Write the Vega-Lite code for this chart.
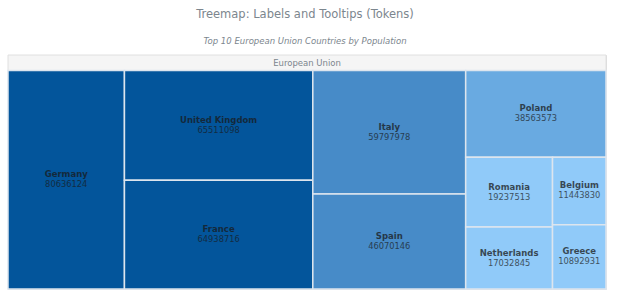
{
  "$schema": "https://vega.github.io/schema/vega-lite/v6.json",
  "width": 598,
  "height": 234,
  "autosize": {"type": "none"},
  "padding": {"left": 8, "top": 55, "right": 14, "bottom": 11},
  "background": "white",
  "title": {
    "text": "Treemap: Labels and Tooltips (Tokens)",
    "subtitle": "Top 10 European Union Countries by Population",
    "anchor": "middle",
    "frame": "group",
    "font": "DejaVu Sans",
    "fontSize": 11.5,
    "fontWeight": "normal",
    "color": "#7c868e",
    "subtitleFont": "DejaVu Sans",
    "subtitleFontSize": 8.5,
    "subtitleFontStyle": "italic",
    "subtitleColor": "#7c868e",
    "subtitlePadding": 17,
    "offset": 9,
    "dx": -2
  },
  "data": {
    "values": [
      {"parent": "European Union", "name": "Germany", "value": 80636124, "col": 1, "row": 1, "sub": 1, "item": 1},
      {"parent": "European Union", "name": "United Kingdom", "value": 65511098, "col": 2, "row": 1, "sub": 1, "item": 1},
      {"parent": "European Union", "name": "France", "value": 64938716, "col": 2, "row": 2, "sub": 1, "item": 1},
      {"parent": "European Union", "name": "Italy", "value": 59797978, "col": 3, "row": 1, "sub": 1, "item": 1},
      {"parent": "European Union", "name": "Spain", "value": 46070146, "col": 3, "row": 2, "sub": 1, "item": 1},
      {"parent": "European Union", "name": "Poland", "value": 38563573, "col": 4, "row": 1, "sub": 1, "item": 1},
      {"parent": "European Union", "name": "Romania", "value": 19237513, "col": 4, "row": 2, "sub": 1, "item": 1},
      {"parent": "European Union", "name": "Netherlands", "value": 17032845, "col": 4, "row": 2, "sub": 1, "item": 2},
      {"parent": "European Union", "name": "Belgium", "value": 11443830, "col": 4, "row": 2, "sub": 2, "item": 1},
      {"parent": "European Union", "name": "Greece", "value": 10892931, "col": 4, "row": 2, "sub": 2, "item": 2}
    ]
  },
  "transform": [
    {"joinaggregate": [{"op": "sum", "field": "value", "as": "total"}]},
    {"joinaggregate": [{"op": "sum", "field": "value", "as": "colSum"}], "groupby": ["col"]},
    {"window": [{"op": "sum", "field": "value", "as": "colEnd"}], "sort": [{"field": "col", "order": "ascending"}], "frame": [null, 0]},
    {"joinaggregate": [{"op": "sum", "field": "value", "as": "rowSum"}], "groupby": ["col", "row"]},
    {"window": [{"op": "sum", "field": "value", "as": "rowEnd"}], "groupby": ["col"], "sort": [{"field": "row", "order": "ascending"}], "frame": [null, 0]},
    {"joinaggregate": [{"op": "sum", "field": "value", "as": "subSum"}], "groupby": ["col", "row", "sub"]},
    {"window": [{"op": "sum", "field": "value", "as": "subEnd"}], "groupby": ["col", "row"], "sort": [{"field": "sub", "order": "ascending"}], "frame": [null, 0]},
    {"window": [{"op": "sum", "field": "value", "as": "itemEnd"}], "groupby": ["col", "row", "sub"], "sort": [{"field": "item", "order": "ascending"}], "frame": [null, 0]},
    {"calculate": "(datum.colEnd - datum.colSum) / datum.total", "as": "cx0"},
    {"calculate": "datum.colSum / datum.total", "as": "cw"},
    {"calculate": "(datum.rowEnd - datum.rowSum) / datum.colSum", "as": "ry0"},
    {"calculate": "datum.rowSum / datum.colSum", "as": "rh"},
    {"calculate": "datum.cx0 + datum.cw * (datum.subEnd - datum.subSum) / datum.rowSum", "as": "x0"},
    {"calculate": "datum.cx0 + datum.cw * datum.subEnd / datum.rowSum", "as": "x1"},
    {"calculate": "0.066 + 0.934 * (datum.ry0 + datum.rh * (datum.itemEnd - datum.value) / datum.subSum)", "as": "y0"},
    {"calculate": "0.066 + 0.934 * (datum.ry0 + datum.rh * datum.itemEnd / datum.subSum)", "as": "y1"},
    {"calculate": "(datum.x0 + datum.x1) / 2", "as": "cx"},
    {"calculate": "(datum.y0 + datum.y1) / 2", "as": "cy"}
  ],
  "layer": [
    {
      "transform": [
        {"aggregate": [{"op": "min", "field": "x0", "as": "px0"}, {"op": "max", "field": "x1", "as": "px1"}, {"op": "min", "field": "y0", "as": "py1"}], "groupby": ["parent"]},
        {"calculate": "datum.py1 * 0", "as": "py0"}
      ],
      "mark": {"type": "rect", "fill": "#f5f5f5", "stroke": "#e0e0e0", "strokeWidth": 1},
      "encoding": {
        "x": {"field": "px0", "type": "quantitative", "scale": {"domain": [0, 1], "nice": false, "zero": false}, "axis": null},
        "x2": {"field": "px1"},
        "y": {"field": "py0", "type": "quantitative", "scale": {"domain": [0, 1], "nice": false, "zero": false, "reverse": true}, "axis": null},
        "y2": {"field": "py1"}
      }
    },
    {
      "transform": [
        {"aggregate": [{"op": "min", "field": "x0", "as": "px0"}, {"op": "max", "field": "x1", "as": "px1"}, {"op": "min", "field": "y0", "as": "py1"}], "groupby": ["parent"]},
        {"calculate": "(datum.px0 + datum.px1) / 2", "as": "pcx"},
        {"calculate": "datum.py1 / 2", "as": "pcy"}
      ],
      "mark": {"type": "text", "font": "DejaVu Sans", "fontSize": 8.5, "color": "#7c868e", "baseline": "middle", "align": "center"},
      "encoding": {
        "x": {"field": "pcx", "type": "quantitative", "scale": {"domain": [0, 1], "nice": false, "zero": false}, "axis": null},
        "y": {"field": "pcy", "type": "quantitative", "scale": {"domain": [0, 1], "nice": false, "zero": false, "reverse": true}, "axis": null},
        "text": {"field": "parent", "type": "nominal"}
      }
    },
    {
      "mark": {"type": "rect", "stroke": "#dde5ee", "strokeWidth": 1.5},
      "encoding": {
        "x": {"field": "x0", "type": "quantitative", "scale": {"domain": [0, 1], "nice": false, "zero": false}, "axis": null},
        "x2": {"field": "x1"},
        "y": {"field": "y0", "type": "quantitative", "scale": {"domain": [0, 1], "nice": false, "zero": false, "reverse": true}, "axis": null},
        "y2": {"field": "y1"},
        "color": {
          "field": "value",
          "type": "quantitative",
          "scale": {"type": "threshold", "domain": [20000000, 40000000, 60000000], "range": ["#90caf9", "#69aae1", "#478bc8", "#03559b"]},
          "legend": null
        },
        "tooltip": [
          {"field": "name", "type": "nominal", "title": "Country"},
          {"field": "value", "type": "quantitative", "title": "Population"}
        ]
      }
    },
    {
      "mark": {"type": "text", "font": "DejaVu Sans", "fontSize": 8.5, "fontWeight": "bold", "color": "#1a1a1a", "opacity": 0.75, "baseline": "middle", "align": "center", "dy": -5.5},
      "encoding": {
        "x": {"field": "cx", "type": "quantitative", "scale": {"domain": [0, 1], "nice": false, "zero": false}, "axis": null},
        "y": {"field": "cy", "type": "quantitative", "scale": {"domain": [0, 1], "nice": false, "zero": false, "reverse": true}, "axis": null},
        "text": {"field": "name", "type": "nominal"}
      }
    },
    {
      "mark": {"type": "text", "font": "DejaVu Sans", "fontSize": 8.3, "color": "#1a1a1a", "opacity": 0.7, "baseline": "middle", "align": "center", "dy": 5.5},
      "encoding": {
        "x": {"field": "cx", "type": "quantitative", "scale": {"domain": [0, 1], "nice": false, "zero": false}, "axis": null},
        "y": {"field": "cy", "type": "quantitative", "scale": {"domain": [0, 1], "nice": false, "zero": false, "reverse": true}, "axis": null},
        "text": {"field": "value", "type": "quantitative", "format": "d"}
      }
    }
  ]
}
